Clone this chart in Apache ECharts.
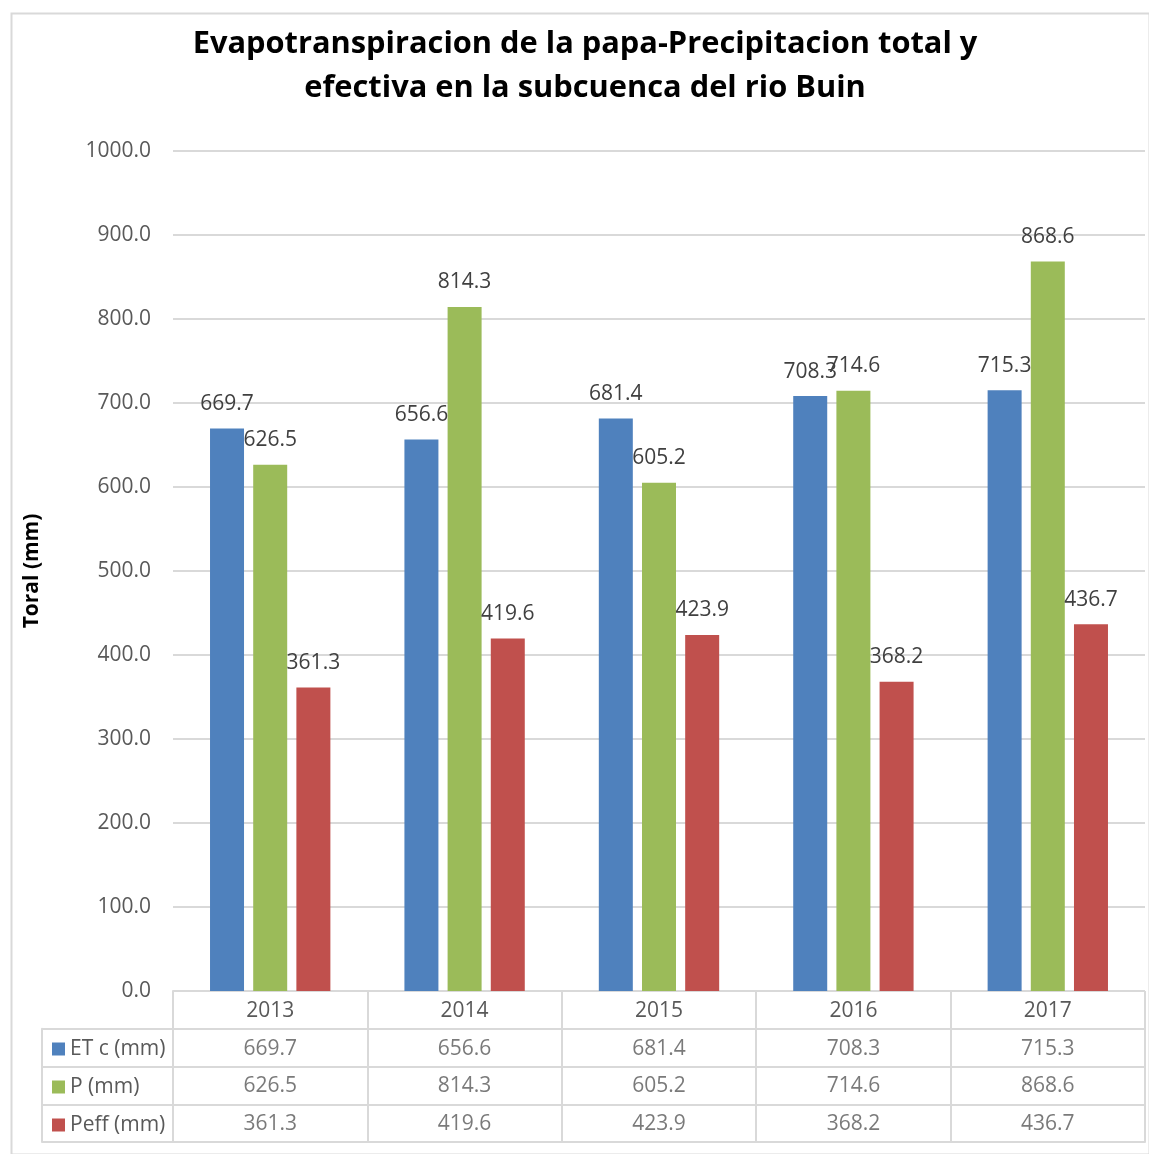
<!DOCTYPE html>
<html>
<head>
<meta charset="utf-8">
<script src="https://cdn.jsdelivr.net/npm/echarts@6/dist/echarts.min.js"></script>
<style>
  html, body { margin: 0; padding: 0; background: #fff; }
  #main { width: 1149px; height: 1154px; }
</style>
</head>
<body>
<div id="main"></div>
<script>
// datos
const years = ['2013', '2014', '2015', '2016', '2017'];
const etc = [669.7, 656.6, 681.4, 708.3, 715.3];
const prec = [626.5, 814.3, 605.2, 714.6, 868.6];
const peff = [361.3, 419.6, 423.9, 368.2, 436.7];
const names = ['ET c (mm)', 'P (mm)', 'Peff (mm)'];
const colors = ['#4f81bd', '#9bbb59', '#c0504d'];
const yTicks = { min: 0, max: 1000, step: 100 };

const font = "'Open Sans', sans-serif";
const gray = '#595959';
const lineGray = '#d9d9d9';

const seriesVals = [etc, prec, peff];

let myChart = echarts.init(document.getElementById('main'));

// barras
const bars = seriesVals.map(function (vals, k) {
  return {
    name: names[k],
    type: 'bar',
    xAxisIndex: 0,
    yAxisIndex: 0,
    data: vals,
    barWidth: 34,
    barGap: '27%',
    itemStyle: { color: colors[k] },
    label: {
      show: true,
      position: 'top',
      distance: 14,
      color: '#404040',
      fontFamily: font,
      fontSize: 21,
      formatter: function (p) { return p.value.toFixed(1); }
    }
  };
});

// celdas de la tabla de datos
const cells = seriesVals.map(function (vals, k) {
  return {
    name: 'tabla' + k,
    type: 'scatter',
    xAxisIndex: 1,
    yAxisIndex: 1,
    symbolSize: 0,
    silent: true,
    data: vals.map(function (v, i) { return [years[i], 2.5 - k, v]; }),
    label: {
      show: true,
      position: 'inside',
      offset: [0, 1],
      color: gray,
      fontFamily: font,
      fontSize: 21,
      formatter: function (p) { return p.value[2].toFixed(1); }
    }
  };
});

var option = {
  animation: false,
  backgroundColor: '#fff',
  title: {
    text: 'Evapotranspiracion de la papa-Precipitacion total y\nefectiva en la subcuenca del rio Buin',
    left: 580,
    top: 17,
    textAlign: 'center',
    textStyle: {
      fontFamily: font,
      fontWeight: 'bold',
      fontSize: 30.8,
      lineHeight: 44,
      color: '#000'
    }
  },
  legend: {
    data: names,
    orient: 'vertical',
    left: 47,
    top: 1033,
    itemWidth: 13,
    itemHeight: 13,
    itemGap: 16,
    icon: 'rect',
    selectedMode: false,
    textStyle: { color: gray, fontFamily: font, fontSize: 21, lineHeight: 22 }
  },
  grid: [
    { left: 173, right: 4, top: 151, bottom: 163 },
    { left: 173, right: 4, top: 991, height: 151 },
    { left: 42, width: 131, top: 1028.75, height: 113.25 }
  ],
  xAxis: [
    {
      type: 'category',
      gridIndex: 0,
      data: years,
      axisLine: { lineStyle: { color: lineGray, width: 1 } },
      axisTick: { show: false },
      axisLabel: { color: gray, fontFamily: font, fontSize: 21, margin: 10 }
    },
    {
      type: 'category',
      gridIndex: 1,
      data: years,
      axisLine: { lineStyle: { color: lineGray, width: 2 } },
      axisTick: { show: false },
      axisLabel: { show: false },
      splitLine: { show: true, lineStyle: { color: lineGray, width: 2 } }
    },
    {
      type: 'value',
      gridIndex: 2,
      show: false
    }
  ],
  yAxis: [
    {
      type: 'value',
      gridIndex: 0,
      min: yTicks.min,
      max: yTicks.max,
      interval: yTicks.step,
      name: 'Toral (mm)',
      nameLocation: 'middle',
      nameGap: 130,
      nameTextStyle: { fontFamily: font, fontWeight: 'bold', fontSize: 21, color: '#000' },
      axisLine: { show: false },
      axisTick: { show: false },
      axisLabel: {
        color: gray, fontFamily: font, fontSize: 21, margin: 22,
        formatter: function (v) { return v.toFixed(1); }
      },
      splitLine: { lineStyle: { color: lineGray, width: 2 } }
    },
    {
      type: 'value',
      gridIndex: 1,
      min: 0,
      max: 4,
      interval: 1,
      axisLine: { show: true, lineStyle: { color: lineGray, width: 2 } },
      axisTick: { show: false },
      axisLabel: { show: false },
      splitLine: { show: true, lineStyle: { color: lineGray, width: 2 } }
    },
    {
      type: 'value',
      gridIndex: 2,
      min: 0,
      max: 3,
      interval: 1,
      axisLine: { show: true, lineStyle: { color: lineGray, width: 2 } },
      axisTick: { show: false },
      axisLabel: { show: false },
      splitLine: { show: true, lineStyle: { color: lineGray, width: 2 } }
    }
  ],
  graphic: [
    {
      type: 'rect',
      left: 9,
      top: 11,
      shape: { width: 1138, height: 1141 },
      style: { fill: 'none', stroke: lineGray, lineWidth: 2 },
      silent: true,
      z: -1
    }
  ],
  series: bars.concat(cells)
};

myChart.setOption(option);
</script>
</body>
</html>
